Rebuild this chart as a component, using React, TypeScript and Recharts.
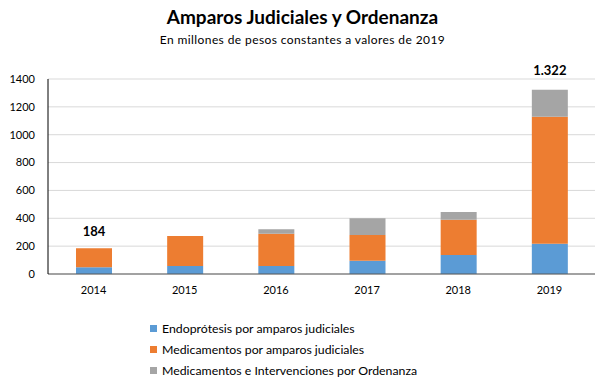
import React from 'react';
import { BarChart, Bar, XAxis, YAxis, CartesianGrid, LabelList } from 'recharts';

const years = ['2014', '2015', '2016', '2017', '2018', '2019'];
const endoprotesis = [48, 57, 57, 96, 136, 218];
const medicamentosAmparos = [136, 215, 232, 184, 254, 911];
const ordenanza = [0, 0, 32, 120, 55, 193];
const totalLabels = ['184', '', '', '', '', '1.322'];
const yTicks = [0, 200, 400, 600, 800, 1000, 1200, 1400];

const seriesNames = [
  'Endoprótesis por amparos judiciales',
  'Medicamentos por amparos judiciales',
  'Medicamentos e Intervenciones por Ordenanza',
];
const colors = ['#5B9BD5', '#ED7D31', '#A5A5A5'];

const data = years.map((year, i) => ({
  year,
  endo: endoprotesis[i],
  med: medicamentosAmparos[i],
  ord: ordenanza[i],
  label: totalLabels[i],
}));

const FONT = 'Lato, "Open Sans", sans-serif';

// label sits on top of the highest non-empty segment
const makeTotalLabel = (onTop: boolean) => (props: any) => {
  const { x, y, width, value, index } = props;
  if (!value) return null;
  if ((ordenanza[index] > 0) !== onTop) return null;
  const off = index === 0 ? 12 : 15;
  return (
    <text
      x={x + width / 2}
      y={y - off}
      textAnchor="middle"
      fill="#000"
      fontSize={13}
      fontWeight={700}
      fontFamily={FONT}
    >
      {value}
    </text>
  );
};

const App: React.FC = () => {
  return (
    <div style={{ position: 'absolute', left: 0, top: 0, width: 605, height: 391, background: '#fff', fontFamily: FONT }}>
      <div style={{ position: 'absolute', top: 5, left: 0, width: 605, textAlign: 'center', fontSize: 19, fontWeight: 700, color: '#000' }}>
        Amparos Judiciales y Ordenanza
      </div>
      <div style={{ position: 'absolute', top: 32, left: 0, width: 605, textAlign: 'center', fontSize: 12, color: '#000', letterSpacing: 0.4 }}>
        En millones de pesos constantes a valores de 2019
      </div>

      <BarChart
        width={605}
        height={391}
        data={data}
        margin={{ top: 79, right: 10, left: 0, bottom: 87 }}
        barSize={36}
      >
        <CartesianGrid vertical={false} stroke="#D9D9D9" />
        <XAxis
          dataKey="year"
          tickLine={false}
          axisLine={{ stroke: '#595959' }}
          tickMargin={6}
          tick={{ fill: '#000', fontSize: 11, fontFamily: FONT }}
        />
        <YAxis
          width={48}
          domain={[0, 1400]}
          ticks={yTicks}
          tickLine={false}
          axisLine={{ stroke: '#000' }}
          tickMargin={7}
          tick={{ fill: '#000', fontSize: 11, fontFamily: FONT }}
        />
        <Bar dataKey="endo" stackId="a" fill={colors[0]} isAnimationActive={false} />
        <Bar dataKey="med" stackId="a" fill={colors[1]} isAnimationActive={false}>
          <LabelList dataKey="label" content={makeTotalLabel(false)} />
        </Bar>
        <Bar dataKey="ord" stackId="a" fill={colors[2]} isAnimationActive={false}>
          <LabelList dataKey="label" content={makeTotalLabel(true)} />
        </Bar>
      </BarChart>

      <div style={{ position: 'absolute', left: 150, top: 318 }}>
        {seriesNames.map((name, i) => (
          <div key={name} style={{ display: 'flex', alignItems: 'center', height: 21, fontSize: 12.3, color: '#000' }}>
            <span style={{ display: 'inline-block', width: 7, height: 7, background: colors[i], marginRight: 5 }} />
            {name}
          </div>
        ))}
      </div>
    </div>
  );
};

export default App;
